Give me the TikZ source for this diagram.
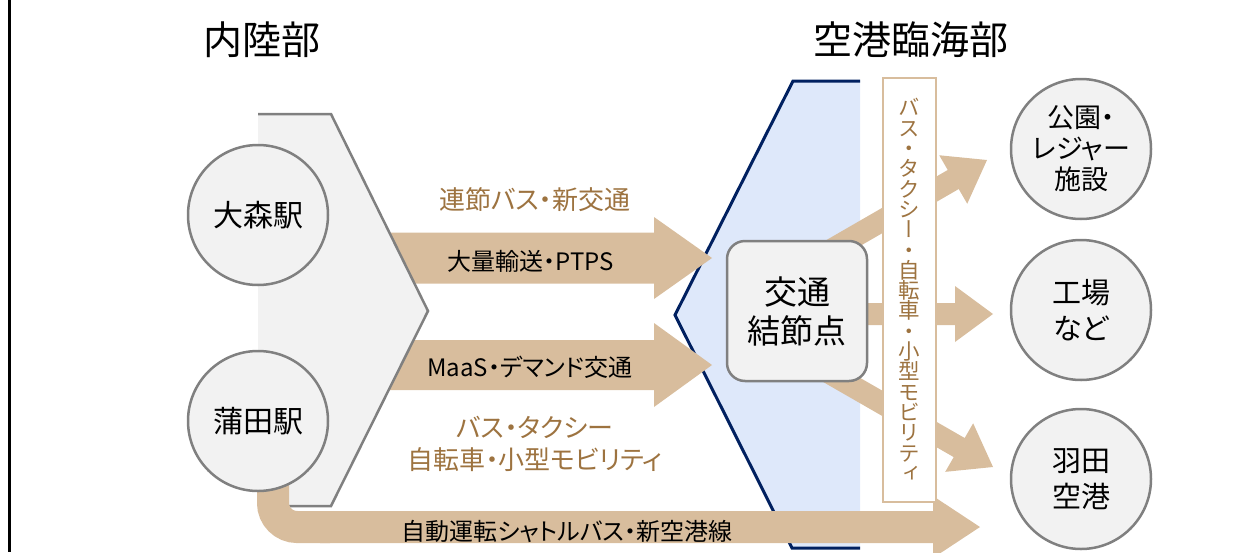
\documentclass[tikz,border=0pt]{standalone}
\usepackage{fontspec}
\setmainfont{Noto Sans CJK JP}[RawFeature=+palt]
\newfontfamily\vertjp{Noto Sans CJK JP}[RawFeature=+vert]
\usetikzlibrary{calc}

\definecolor{tanfill}{RGB}{216,189,157}
\definecolor{tantext}{RGB}{157,115,64}
\definecolor{boxgray}{RGB}{242,242,242}
\definecolor{linegray}{RGB}{128,128,128}
\definecolor{navy}{RGB}{0,32,96}
\definecolor{paleblue}{RGB}{222,232,250}

% block arrow: start, tip, half shaft, half head, head length
\newcommand{\blockarrow}[5]{%
  \coordinate (hb) at ($(#2)!#5!(#1)$);
  \fill[tanfill] ($(#1)!#3!90:(#2)$) -- ($(hb)!#3!-90:(#1)$) -- ($(hb)!#4!-90:(#1)$) -- (#2)
    -- ($(hb)!#4!90:(#1)$) -- ($(hb)!#3!90:(#1)$) -- ($(#1)!#3!-90:(#2)$) -- cycle;}

\begin{document}
\begin{tikzpicture}[x=1pt, y=-1pt,
    station/.style={circle, draw=linegray, line width=2.5pt, fill=boxgray, minimum size=140pt, inner sep=0pt, align=center, font=\fontsize{30}{36}\selectfont},
    dest/.style={station, font=\fontsize{29}{36}\selectfont},
    title/.style={font=\fontsize{39}{44}\selectfont},
    modelabel/.style={text=tantext, align=center, font=\fontsize{26}{32}\selectfont},
    bandlabel/.style={font=\fontsize{24}{28}\selectfont}]

    \useasboundingbox (0,0) rectangle (1243,552);
    \draw[line width=3pt] (9.5,0) -- (9.5,552);

    \node[title] (inland) at (262,40) {内陸部};
    \node[title] (coastal) at (911,40) {空港臨海部};

    % coastal zone
    \fill[paleblue] (793,81) -- (860,81) -- (860,548) -- (792,548) -- (675,315) -- cycle;
    \draw[navy, line width=3pt] (860,81) -- (793,81) -- (675,315) -- (792,548) -- (860,548);

    % main arrows
    \coordinate (a1s) at (380,258); \coordinate (a1t) at (712,258);
    \coordinate (a2s) at (380,365); \coordinate (a2t) at (712,365);
    \blockarrow{a1s}{a1t}{25.5pt}{41pt}{58pt}
    \blockarrow{a2s}{a2t}{25pt}{42pt}{58pt}

    % inland zone
    \fill[boxgray] (258,114) -- (331,114) -- (428,311) -- (331,506) -- (258,506) -- cycle;
    \draw[linegray, line width=2.5pt] (258,114) -- (331,114) -- (428,311) -- (331,506) -- (258,506);

    % shuttle
    \coordinate (a3b) at (273,430);
    \coordinate (a3s) at (320,527); \coordinate (a3t) at (980,527);
    \draw[tanfill, line width=32pt, rounded corners=24pt] (a3b) |- (330,527);
    \blockarrow{a3s}{a3t}{16pt}{31pt}{47pt}

    \node[station] (omori) at (258,215) {大森駅};
    \node[station] (kamata) at (258,421) {蒲田駅};

    \node[modelabel] (lbl1) at (535,200) {連節バス・新交通};
    \node[bandlabel] (lbl2) at (531,261) {大量輸送・PTPS};
    \node[bandlabel] (lbl3) at (530,367) {MaaS・デマンド交通};
    \node[modelabel] (lbl4) at (535,444) {バス・タクシー\\自転車・小型モビリティ};
    \node[bandlabel] (lbl5) at (567,531) {自動運転シャトルバス・新空港線};

    % feeders
    \coordinate (f1s) at (800,268); \coordinate (f1t) at (987,160);
    \coordinate (f2s) at (850,314); \coordinate (f2t) at (993,314);
    \coordinate (f3s) at (800,356); \coordinate (f3t) at (993,467);
    \blockarrow{f1s}{f1t}{11pt}{28pt}{39pt}
    \blockarrow{f2s}{f2t}{11pt}{28pt}{38pt}
    \blockarrow{f3s}{f3t}{11pt}{28pt}{39pt}

    \node[draw=linegray, line width=2.5pt, fill=boxgray, rounded corners=18pt, minimum width=140pt, minimum height=140pt,
        align=center, font=\fontsize{33}{39}\selectfont] (hub) at (797,311) {交通\\結節点};

    \node[draw=tanfill, line width=2pt, fill=white, minimum width=53pt, minimum height=424pt, inner sep=0pt,
        align=center, text=tantext, font=\vertjp\fontsize{21.5}{20.3}\selectfont] (vlabel) at (909.5,290)
        {バ\\ス\\・\\タ\\ク\\シ\\ー\\・\\自\\転\\車\\・\\小\\型\\モ\\ビ\\リ\\テ\\ィ};

    \node[dest, font=\fontsize{27}{31}\selectfont] (park) at (1081,149) {公園・\\レジャー\\施設};
    \node[dest] (factory) at (1081,310) {工場\\など};
    \node[dest] (airport) at (1081,479) {羽田\\空港};
\end{tikzpicture}
\end{document}
